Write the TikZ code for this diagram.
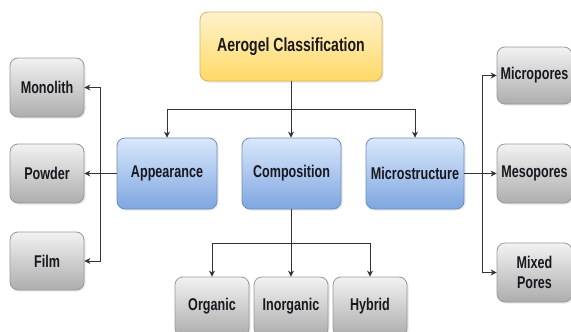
\documentclass[tikz,border=0pt]{standalone}
\usepackage{fontspec}
\setmainfont{Liberation Sans}[FakeStretch=0.74]
\usetikzlibrary{arrows.meta,shadows}
\definecolor{ytop}{HTML}{FFF2CC}
\definecolor{ybot}{HTML}{FFD966}
\definecolor{ystr}{HTML}{D6B656}
\definecolor{btop}{HTML}{DAE8FC}
\definecolor{bbot}{HTML}{7EA6E0}
\definecolor{bstr}{HTML}{6C8EBF}
\definecolor{gtop}{HTML}{F2F2F2}
\definecolor{gbot}{HTML}{ADADAD}
\definecolor{gstr}{HTML}{999999}
\definecolor{txt}{HTML}{18181E}
\definecolor{ln}{HTML}{333333}
\tikzset{
  box/.style={rounded corners=8pt, line width=0.8pt, align=center, inner sep=0pt,
    font=\fontsize{17}{18}\selectfont\bfseries, text=txt,
    drop shadow={opacity=0.18, shadow xshift=1.5pt, shadow yshift=-1.5pt}},
  ybox/.style={box, draw=ystr, top color=ytop, bottom color=ybot,
    minimum width=182pt, minimum height=69pt, font=\fontsize{19}{20}\selectfont\bfseries},
  bbox/.style={box, draw=bstr, top color=btop, bottom color=bbot, minimum height=71pt},
  gbox/.style={box, draw=gstr, top color=gtop, bottom color=gbot, minimum width=74pt},
  arr/.style={draw=ln, line width=0.9pt, -{Stealth[length=6pt,width=6pt]}},
  ln/.style={draw=ln, line width=0.9pt}
}
\begin{document}
\begin{tikzpicture}[x=1pt,y=-1pt]
\useasboundingbox[fill=white] (0,0) rectangle (571,332);
% top
\node[ybox] (title) at (291,46.5) {Aerogel Classification};
% middle
\node[bbox, minimum width=100pt] (app) at (167,173.5) {Appearance};
\node[bbox, minimum width=99pt] (comp) at (291.5,173.5) {Composition};
\node[bbox, minimum width=98pt] (micro) at (415,173.5) {Microstructure};
% left
\node[gbox, minimum height=59pt] (mono) at (47,87.5) {Monolith};
\node[gbox, minimum height=59pt] (powder) at (47,173.5) {Powder};
\node[gbox, minimum height=58pt] (film) at (47,261) {Film};
% right
\node[gbox, minimum width=75pt, minimum height=57pt] (micp) at (534.5,75.5) {Micropores};
\node[gbox, minimum width=75pt, minimum height=59pt] (meso) at (534.5,173.5) {Mesopores};
\node[gbox, minimum width=75pt, minimum height=59pt] (mix) at (534.5,272.5) {Mixed\\[2pt]Pores};
% bottom
\node[gbox, minimum height=59pt] (org) at (212,306.5) {Organic};
\node[gbox, minimum height=59pt] (inorg) at (291,306.5) {Inorganic};
\node[gbox, minimum height=59pt] (hyb) at (370,306.5) {Hybrid};
% connectors: top
\coordinate (tb) at (291.5,109);
\draw[arr] (title.south) -- (title.south |- comp.north);
\draw[arr] (tb) -| (app.north);
\draw[arr] (tb) -| (micro.north);
% left
\coordinate (lb) at (100,173.5);
\draw[arr] (app.west) -- (powder.east);
\draw[arr] (lb) |- (mono.east);
\draw[arr] (lb) |- (film.east);
% right
\coordinate (rb) at (482,173.5);
\draw[arr] (micro.east) -- (meso.west);
\draw[arr] (rb) |- (micp.west);
\draw[arr] (rb) |- (mix.west);
% bottom
\coordinate (bb) at (291,243);
\draw[arr] (comp.south -| inorg.north) -- (inorg.north);
\draw[arr] (bb) -| (org.north);
\draw[arr] (bb) -| (hyb.north);
\end{tikzpicture}
\end{document}
